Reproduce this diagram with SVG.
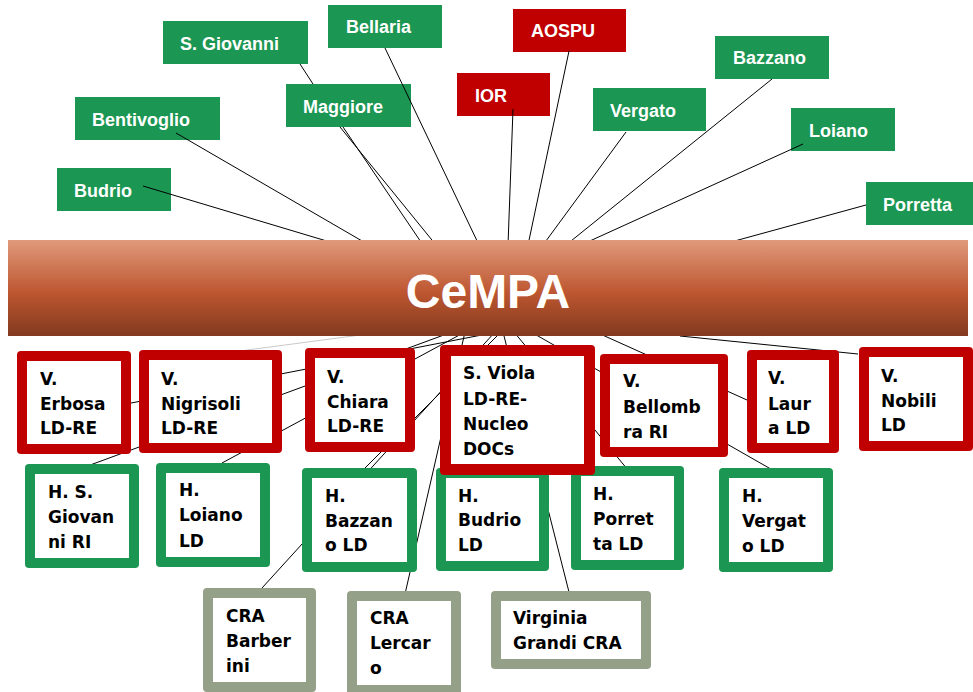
<svg xmlns="http://www.w3.org/2000/svg" width="973" height="692" viewBox="0 0 973 692">
<defs>
<linearGradient id="barGrad" x1="0" y1="0" x2="0" y2="1">
<stop offset="0" stop-color="#e19a7c"/>
<stop offset="0.55" stop-color="#bd5630"/>
<stop offset="1" stop-color="#823a1f"/>
</linearGradient>
</defs>
<style>
.top rect{fill:#1b9653}
.top.red rect{fill:#c00000}
.top text{font-family:"Liberation Sans",Arial,sans-serif;font-weight:bold;font-size:18px;fill:#fff}
.box .o{rx:4;ry:4}
.box .i{fill:#fff}
.box.r .o{fill:#c00000}
.box.g .o{fill:#1b9653}
.box.c .o{fill:#95a089}
.box text{font-family:"DejaVu Sans",Verdana,sans-serif;font-weight:bold;font-size:17px;fill:#000}
.conn{stroke:#000;stroke-width:1;fill:none}
.faint{stroke:#c8c8c8}
</style>
<rect width="973" height="692" fill="#fff"/>

<g id="n-sgiovanni" class="top"><rect x="163" y="21" width="145" height="43"/><text x="180" y="50">S. Giovanni</text></g>
<g id="n-bellaria" class="top"><rect x="328" y="5" width="114" height="43"/><text x="346" y="33">Bellaria</text></g>
<g id="n-maggiore" class="top"><rect x="286" y="84" width="125" height="43"/><text x="303" y="113">Maggiore</text></g>
<g id="n-bentivoglio" class="top"><rect x="75" y="97" width="145" height="43"/><text x="92" y="126">Bentivoglio</text></g>
<g id="n-budrio" class="top"><rect x="57" y="168" width="114" height="43"/><text x="74" y="197">Budrio</text></g>
<g id="n-ior" class="top red"><rect x="457" y="73" width="93" height="43"/><text x="475" y="102">IOR</text></g>
<g id="n-aospu" class="top red"><rect x="513" y="9" width="113" height="43"/><text x="531" y="37">AOSPU</text></g>
<g id="n-vergato" class="top"><rect x="593" y="88" width="113" height="43"/><text x="610" y="117">Vergato</text></g>
<g id="n-bazzano" class="top"><rect x="715" y="36" width="114" height="43"/><text x="733" y="64">Bazzano</text></g>
<g id="n-loiano" class="top"><rect x="791" y="108" width="104" height="43"/><text x="809" y="137">Loiano</text></g>
<g id="n-porretta" class="top"><rect x="866" y="182" width="107" height="43"/><text x="883" y="211">Porretta</text></g>

<g id="connectors" class="conn">
<path d="M300,64 L313,84 M343,127 L423,245"/>
<path d="M340,127 L436,245"/>
<path d="M143,186 L340,245"/>
<path d="M176,133 L369,245"/>
<path d="M385,48 L479,245"/>
<path d="M513,109 L508,245"/>
<path d="M569,51 L528,245"/>
<path d="M626,132 L543,245"/>
<path d="M772,79 L566,245"/>
<path d="M803,144 L581,245"/>
<path d="M866,205 L720,245"/>
<path class="faint" d="M240,351 L368,334"/>
<path d="M126,404 L492,333"/>
<path d="M82,468 L452,332"/>
<path d="M222,463 L465,332"/>
<path d="M365,468 L501,332"/>
<path d="M262,588 L495,332"/>
<path d="M405,594 L465,332"/>
<path d="M570,596 L503,332"/>
<path d="M628,470 L514,332"/>
<path d="M776,472 L531,332"/>
<path d="M747,400 L598,333"/>
<path d="M858,354 L680,336"/>
</g>
<g id="n-cempa" class="hub"><rect x="8" y="240" width="960" height="96" fill="url(#barGrad)"/><text x="488" y="308" text-anchor="middle" font-family="Liberation Sans,Arial,sans-serif" font-weight="bold" font-size="48" fill="#fff">CeMPA</text></g>

<g id="n-barberini" class="box c"><rect class="o" x="203" y="588" width="113" height="104"/><rect class="i" x="213" y="598" width="93" height="84"/><text x="226" y="622">CRA</text><text x="226" y="647">Barber</text><text x="226" y="672">ini</text></g>
<g id="n-lercaro" class="box c"><rect class="o" x="347" y="591" width="114" height="106"/><rect class="i" x="357" y="601" width="94" height="84"/><text x="370" y="624">CRA</text><text x="370" y="649">Lercar</text><text x="370" y="674">o</text></g>
<g id="n-virginia" class="box c"><rect class="o" x="491" y="591" width="160" height="78"/><rect class="i" x="501" y="601" width="140" height="58"/><text x="513" y="624">Virginia</text><text x="513" y="649">Grandi CRA</text></g>

<g id="n-hsgiovanni" class="box g"><rect class="o" x="25" y="464" width="114" height="104"/><rect class="i" x="35" y="474" width="94" height="84"/><text x="48" y="498">H. S.</text><text x="48" y="523">Giovan</text><text x="48" y="548">ni RI</text></g>
<g id="n-hloiano" class="box g"><rect class="o" x="156" y="463" width="114" height="104"/><rect class="i" x="166" y="473" width="94" height="84"/><text x="179" y="496">H.</text><text x="179" y="521">Loiano</text><text x="179" y="547">LD</text></g>
<g id="n-hbazzano" class="box g"><rect class="o" x="302" y="468" width="115" height="104"/><rect class="i" x="312" y="478" width="95" height="84"/><text x="325" y="502">H.</text><text x="325" y="527">Bazzan</text><text x="325" y="551">o LD</text></g>
<g id="n-hbudrio" class="box g"><rect class="o" x="436" y="468" width="113" height="103"/><rect class="i" x="446" y="478" width="93" height="83"/><text x="458" y="502">H.</text><text x="458" y="526">Budrio</text><text x="458" y="551">LD</text></g>
<g id="n-hporretta" class="box g"><rect class="o" x="571" y="466" width="113" height="104"/><rect class="i" x="581" y="476" width="93" height="84"/><text x="593" y="500">H.</text><text x="593" y="525">Porret</text><text x="593" y="550">ta LD</text></g>
<g id="n-hvergato" class="box g"><rect class="o" x="719" y="468" width="114" height="104"/><rect class="i" x="729" y="478" width="94" height="84"/><text x="742" y="502">H.</text><text x="742" y="527">Vergat</text><text x="742" y="552">o LD</text></g>

<g id="n-erbosa" class="box r"><rect class="o" x="17" y="351" width="114" height="103"/><rect class="i" x="27" y="361" width="94" height="83"/><text x="40" y="385">V.</text><text x="40" y="410">Erbosa</text><text x="40" y="434">LD-RE</text></g>
<g id="n-nigrisoli" class="box r"><rect class="o" x="139" y="350" width="143" height="103"/><rect class="i" x="149" y="360" width="123" height="83"/><text x="161" y="385">V.</text><text x="161" y="410">Nigrisoli</text><text x="161" y="434">LD-RE</text></g>
<g id="n-chiara" class="box r"><rect class="o" x="305" y="348" width="110" height="104"/><rect class="i" x="315" y="358" width="90" height="84"/><text x="327" y="383">V.</text><text x="327" y="408">Chiara</text><text x="327" y="432">LD-RE</text></g>
<g id="n-sviola" class="box r"><rect class="o" x="440" y="345" width="155" height="130"/><rect class="i" x="451" y="356" width="133" height="108"/><text x="463" y="379">S. Viola</text><text x="463" y="405">LD-RE-</text><text x="463" y="430">Nucleo</text><text x="463" y="455">DOCs</text></g>
<g id="n-bellomba" class="box r"><rect class="o" x="600" y="354" width="128" height="103"/><rect class="i" x="610" y="364" width="108" height="83"/><text x="623" y="387">V.</text><text x="623" y="413">Bellomb</text><text x="623" y="438">ra RI</text></g>
<g id="n-laura" class="box r"><rect class="o" x="747" y="350" width="92" height="103"/><rect class="i" x="757" y="360" width="72" height="83"/><text x="768" y="384">V.</text><text x="768" y="410">Laur</text><text x="768" y="434">a LD</text></g>
<g id="n-nobili" class="box r"><rect class="o" x="859" y="347" width="114" height="104"/><rect class="i" x="869" y="357" width="94" height="84"/><text x="881" y="382">V.</text><text x="881" y="407">Nobili</text><text x="881" y="431">LD</text></g>
</svg>
